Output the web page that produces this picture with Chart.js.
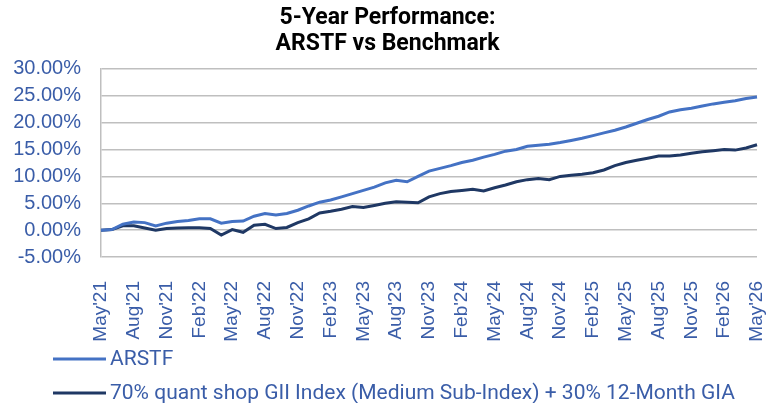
<!DOCTYPE html>
<html>
<head>
    <title>5-Year Performance: ARSTF vs Benchmark</title>
    <script src="https://cdn.jsdelivr.net/npm/chart.js"></script>
    <style>
        body {
            margin: 0;
            padding: 0;
            background-color: #ffffff;
        }
        .chart-container {
            width: 775px;
            height: 403px;
        }
    </style>
</head>
<body>
    <div class="chart-container">
        <canvas id="perfChart" width="775" height="403"></canvas>
    </div>

    <script>
        const months = [
            "May'21", "Jun'21", "Jul'21", "Aug'21", "Sep'21", "Oct'21", "Nov'21", "Dec'21", "Jan'22", "Feb'22",
            "Mar'22", "Apr'22", "May'22", "Jun'22", "Jul'22", "Aug'22", "Sep'22", "Oct'22", "Nov'22", "Dec'22",
            "Jan'23", "Feb'23", "Mar'23", "Apr'23", "May'23", "Jun'23", "Jul'23", "Aug'23", "Sep'23", "Oct'23",
            "Nov'23", "Dec'23", "Jan'24", "Feb'24", "Mar'24", "Apr'24", "May'24", "Jun'24", "Jul'24", "Aug'24",
            "Sep'24", "Oct'24", "Nov'24", "Dec'24", "Jan'25", "Feb'25", "Mar'25", "Apr'25", "May'25", "Jun'25",
            "Jul'25", "Aug'25", "Sep'25", "Oct'25", "Nov'25", "Dec'25", "Jan'26", "Feb'26", "Mar'26", "Apr'26",
            "May'26"
        ];

        const arstf = [
            0.0, 0.1, 1.1, 1.5, 1.4, 0.8, 1.3, 1.6, 1.8, 2.1,
            2.1, 1.3, 1.6, 1.7, 2.6, 3.1, 2.8, 3.1, 3.7, 4.5,
            5.2, 5.6, 6.2, 6.8, 7.4, 8.0, 8.8, 9.3, 9.0, 10.0,
            11.0, 11.5, 12.0, 12.6, 13.0, 13.6, 14.1, 14.7, 15.0, 15.6,
            15.8, 16.0, 16.3, 16.7, 17.1, 17.6, 18.1, 18.6, 19.2, 19.9,
            20.6, 21.2, 22.0, 22.4, 22.7, 23.1, 23.5, 23.8, 24.1, 24.5,
            24.8
        ];

        const benchmark = [
            0.0, 0.1, 0.8, 0.8, 0.4, 0.0, 0.3, 0.4, 0.45, 0.45,
            0.3, -0.9, 0.1, -0.4, 0.9, 1.1, 0.3, 0.5, 1.4, 2.1,
            3.2, 3.5, 3.9, 4.4, 4.2, 4.6, 5.0, 5.3, 5.2, 5.1,
            6.2, 6.8, 7.2, 7.4, 7.6, 7.3, 7.9, 8.4, 9.0, 9.4,
            9.6, 9.4, 10.0, 10.2, 10.4, 10.7, 11.2, 12.0, 12.6, 13.0,
            13.4, 13.8, 13.8, 14.0, 14.3, 14.6, 14.8, 15.0, 14.9, 15.3,
            15.9
        ];

        const seriesNames = ['ARSTF', '70% quant shop GII Index (Medium Sub-Index) + 30% 12-Month GIA'];

        const textBlue = '#3A5DA8';
        const tickFont = "'Liberation Sans', Arial, sans-serif";

        // legend drawn one item per line under the axis labels
        const stackedLegend = {
            id: 'stackedLegend',
            afterDraw(chart) {
                const c = chart.ctx;
                c.save();
                c.font = '21px Roboto, sans-serif';
                c.textBaseline = 'middle';
                chart.data.datasets.forEach((ds, i) => {
                    const y = 359 + i * 34;
                    c.strokeStyle = ds.borderColor;
                    c.lineWidth = 3;
                    c.beginPath();
                    c.moveTo(53, y);
                    c.lineTo(106, y);
                    c.stroke();
                    c.fillStyle = textBlue;
                    c.fillText(ds.label, 110, y + 1);
                });
                c.restore();
            }
        };

        const ctx = document.getElementById('perfChart').getContext('2d');
        new Chart(ctx, {
            type: 'line',
            data: {
                labels: months,
                datasets: [
                    {
                        label: seriesNames[0],
                        data: arstf,
                        borderColor: '#4472C4',
                        borderWidth: 3,
                        pointRadius: 0,
                        tension: 0
                    },
                    {
                        label: seriesNames[1],
                        data: benchmark,
                        borderColor: '#1F3864',
                        borderWidth: 3,
                        pointRadius: 0,
                        tension: 0
                    }
                ]
            },
            options: {
                responsive: false,
                animation: false,
                layout: {
                    padding: { left: 0, right: 0, top: 5, bottom: 56 }
                },
                plugins: {
                    legend: { display: false },
                    tooltip: { enabled: false },
                    title: {
                        display: true,
                        text: ['5-Year Performance:', 'ARSTF vs Benchmark'],
                        color: '#000000',
                        font: { family: 'Roboto, sans-serif', size: 23, weight: 'bold', lineHeight: 1.13 },
                        padding: { top: 0, bottom: 12 }
                    }
                },
                scales: {
                    x: {
                        grid: { display: false },
                        border: { display: false },
                        ticks: {
                            autoSkip: false,
                            maxRotation: 90,
                            minRotation: 90,
                            padding: 16,
                            color: textBlue,
                            font: { family: tickFont, size: 19 },
                            callback: function(value, index) {
                                return index % 3 === 0 ? months[index] : '';
                            }
                        },
                        afterFit: function(scale) {
                            scale.height = 90;
                            scale.paddingRight = 18;
                        }
                    },
                    y: {
                        min: -5,
                        max: 30,
                        grid: {
                            color: '#BFBFBF',
                            lineWidth: 1.5,
                            drawTicks: false
                        },
                        border: { display: true, color: '#BFBFBF', width: 1.5 },
                        ticks: {
                            stepSize: 5,
                            autoSkip: false,
                            padding: 20,
                            color: textBlue,
                            font: { family: tickFont, size: 20 },
                            callback: function(value) {
                                return value.toFixed(2) + '%';
                            }
                        },
                        afterFit: function(scale) {
                            scale.width = 101;
                        }
                    }
                }
            },
            plugins: [stackedLegend]
        });
    </script>
</body>
</html>
